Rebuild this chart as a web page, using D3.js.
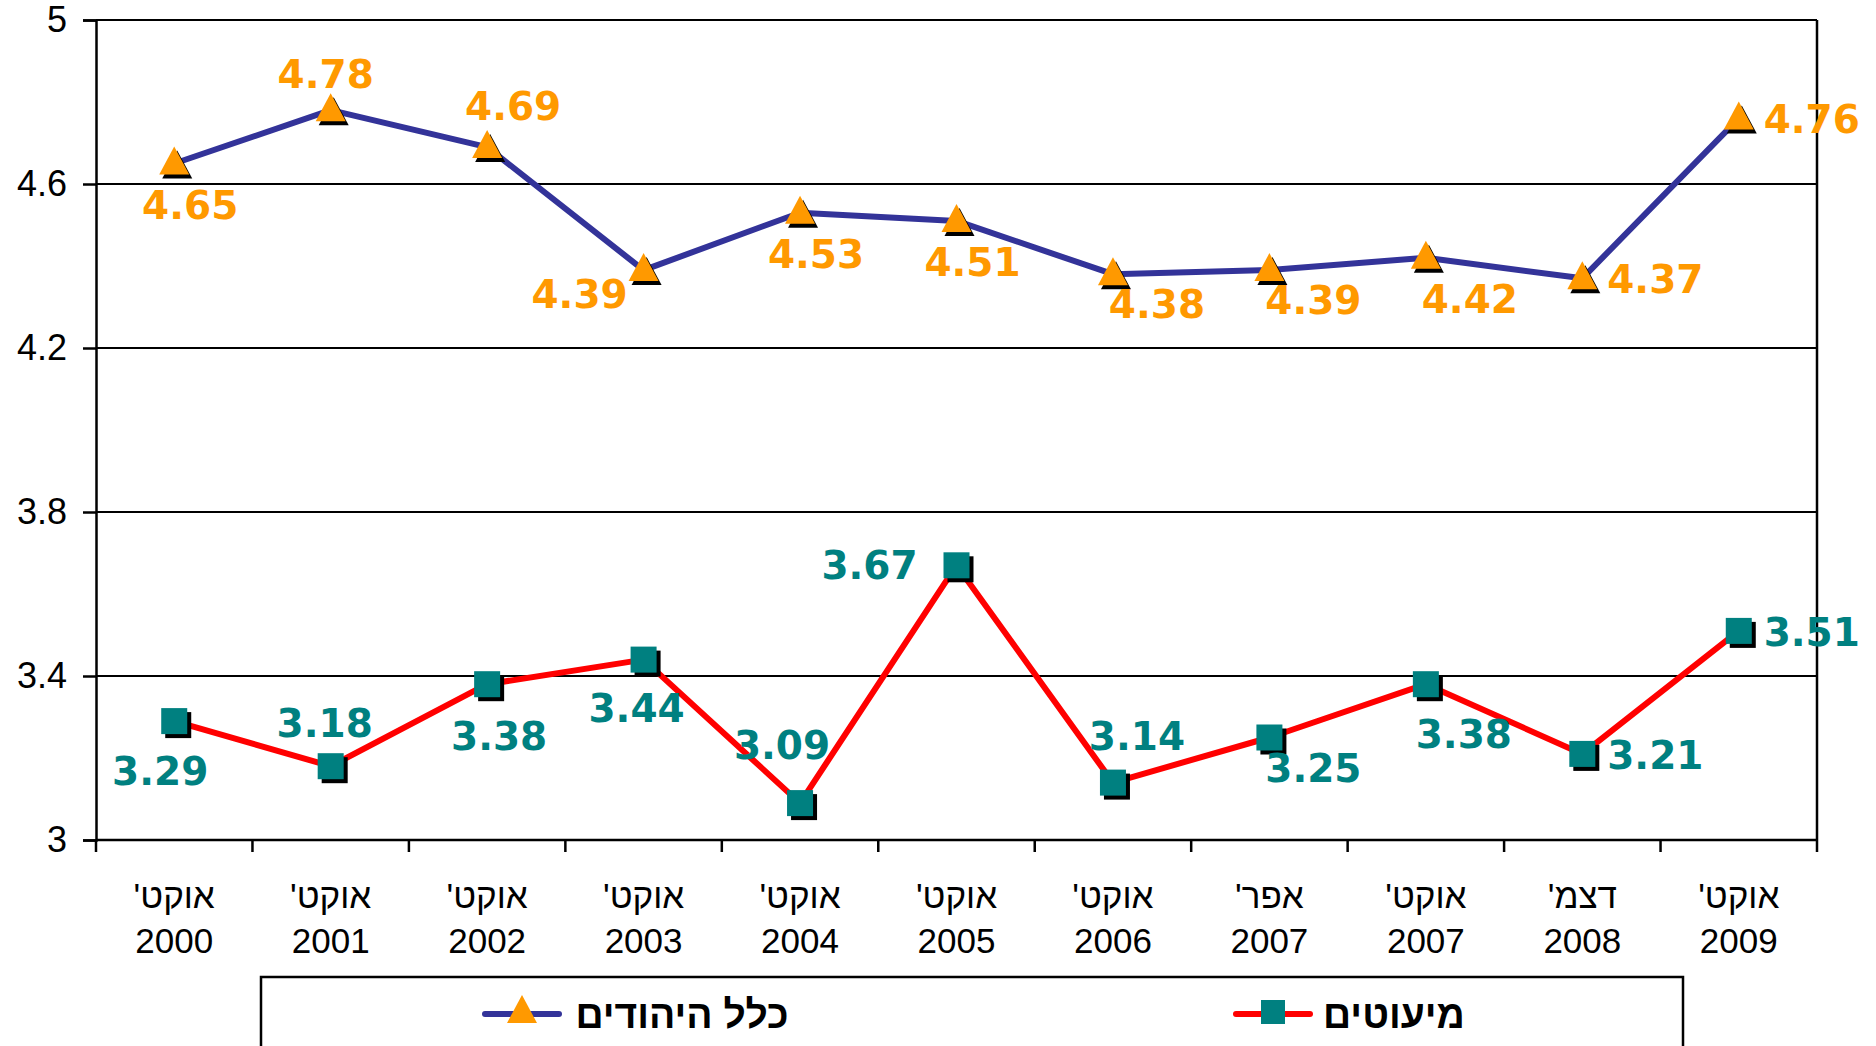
<!DOCTYPE html>
<html>
<head>
<meta charset="utf-8">
<script src="https://cdn.jsdelivr.net/npm/d3@7"></script>
<style>
  body { margin: 0; background: #fff; }
  svg { display: block; }
</style>
</head>
<body>
<script>
const w = 1876,
  h = 1046;

// data
const months = ["אוקט'", "אוקט'", "אוקט'", "אוקט'", "אוקט'", "אוקט'", "אוקט'", "אפר'", "אוקט'", "דצמ'", "אוקט'"];
const years = ['2000', '2001', '2002', '2003', '2004', '2005', '2006', '2007', '2007', '2008', '2009'];
const jews = [4.65, 4.78, 4.69, 4.39, 4.53, 4.51, 4.38, 4.39, 4.42, 4.37, 4.76];
const minorities = [3.29, 3.18, 3.38, 3.44, 3.09, 3.67, 3.14, 3.25, 3.38, 3.21, 3.51];
const yTicks = [3, 3.4, 3.8, 4.2, 4.6, 5];
const seriesNames = ['כלל היהודים', 'מיעוטים'];

// where each value label sits relative to its marker
const jewsLabelPos = ['b', 't', 'tr', 'bl', 'b', 'b', 'br', 'br', 'brl', 'r', 'r'];
const minLabelPos = ['bw', 'tm', 'be', 'bc', 'tl', 'l', 'tn', 'br', 'bd', 'r', 'r'];
const labelOffset = {
  b: [16, 41], t: [-5, -36], tr: [26, -41], bl: [-64, 24], br: [44, 30], brl: [44, 41],
  bw: [-14, 50], be: [12, 52], bc: [-7, 48], bd: [38, 50],
  tm: [-6, -43], tn: [24, -47],
  r: [73, 1], l: [-87, 0], tl: [-18, -58]
};

const margin = { left: 96, right: 1817, top: 20, bottom: 840 };

const xScale = d3.scaleBand()
  .domain(d3.range(years.length))
  .range([margin.left, margin.right]);

const yScale = d3.scaleLinear()
  .domain([3, 5])
  .range([margin.bottom, margin.top]);

const cx = i => xScale(i) + xScale.bandwidth() / 2;

const svg = d3.select('body')
  .append('svg')
  .attr('width', w)
  .attr('height', h);

// gridlines
svg.append('g')
  .selectAll('line')
  .data(yTicks.slice(1))
  .enter()
  .append('line')
  .attr('x1', margin.left)
  .attr('x2', margin.right)
  .attr('y1', d => yScale(d))
  .attr('y2', d => yScale(d))
  .attr('stroke', '#000')
  .attr('stroke-width', 2);

// right border
svg.append('line')
  .attr('x1', margin.right).attr('x2', margin.right)
  .attr('y1', margin.top).attr('y2', margin.bottom)
  .attr('stroke', '#000').attr('stroke-width', 2.5);

// y axis
const yAxis = d3.axisLeft(yScale)
  .tickValues(yTicks)
  .tickFormat(d3.format('~g'))
  .tickSize(13)
  .tickPadding(16);

const gy = svg.append('g')
  .attr('transform', `translate(${margin.left},0)`)
  .call(yAxis);
gy.select('.domain').attr('stroke', '#000').attr('stroke-width', 2.5);
gy.selectAll('.tick line').attr('stroke', '#000').attr('stroke-width', 2.5);
gy.selectAll('.tick text')
  .attr('font-family', 'Arial, "Liberation Sans", sans-serif')
  .attr('font-size', 36)
  .attr('fill', '#000');

// x axis, ticks at band edges
const edges = d3.range(years.length + 1).map(i => i < years.length ? xScale(i) : margin.right);
const gx = svg.append('g');
gx.append('line')
  .attr('x1', margin.left).attr('x2', margin.right)
  .attr('y1', margin.bottom).attr('y2', margin.bottom)
  .attr('stroke', '#000').attr('stroke-width', 2.5);
gx.selectAll('line.tick')
  .data(edges)
  .enter()
  .append('line')
  .attr('class', 'tick')
  .attr('x1', d => d).attr('x2', d => d)
  .attr('y1', margin.bottom).attr('y2', margin.bottom + 12)
  .attr('stroke', '#000').attr('stroke-width', 2.5);

const xl = gx.selectAll('g.lbl')
  .data(years)
  .enter()
  .append('g')
  .attr('class', 'lbl')
  .attr('transform', (d, i) => `translate(${cx(i)},0)`);
xl.append('text')
  .attr('y', 908)
  .attr('direction', 'rtl')
  .attr('text-anchor', 'middle')
  .attr('font-family', 'Arial, "Liberation Sans", sans-serif')
  .attr('font-size', 35)
  .text((d, i) => months[i]);
xl.append('text')
  .attr('y', 953)
  .attr('text-anchor', 'middle')
  .attr('font-family', 'Arial, "Liberation Sans", sans-serif')
  .attr('font-size', 35)
  .text(d => d);

// marker shapes
const triPath = (x, y) => `M${x},${y - 17}L${x + 15},${y + 11}L${x - 15},${y + 11}Z`;
const sq = 26;

const line = d3.line()
  .x((d, i) => cx(i))
  .y(d => yScale(d));

const series = [
  { values: jews, stroke: '#333399', fill: '#FF9900', label: '#FF9900', shape: 'tri', pos: jewsLabelPos },
  { values: minorities, stroke: '#FF0000', fill: '#008080', label: '#008080', shape: 'sq', pos: minLabelPos }
];

series.forEach(s => {
  svg.append('path')
    .datum(s.values)
    .attr('d', line)
    .attr('fill', 'none')
    .attr('stroke', s.stroke)
    .attr('stroke-width', 6)
    .attr('stroke-linejoin', 'round');

  const m = svg.append('g');
  s.values.forEach((v, i) => {
    const x = cx(i), y = yScale(v);
    if (s.shape === 'tri') {
      m.append('path').attr('d', triPath(x + 3, y + 4)).attr('fill', '#000');
      m.append('path').attr('d', triPath(x, y)).attr('fill', s.fill);
    } else {
      m.append('rect').attr('x', x - sq / 2 + 4).attr('y', y - sq / 2 + 4)
        .attr('width', sq).attr('height', sq).attr('fill', '#000');
      m.append('rect').attr('x', x - sq / 2).attr('y', y - sq / 2)
        .attr('width', sq).attr('height', sq).attr('fill', s.fill);
    }
  });

  svg.append('g')
    .selectAll('text')
    .data(s.values)
    .enter()
    .append('text')
    .attr('x', (d, i) => cx(i) + labelOffset[s.pos[i]][0])
    .attr('y', (d, i) => yScale(d) + labelOffset[s.pos[i]][1])
    .attr('dy', '0.36em')
    .attr('text-anchor', 'middle')
    .attr('font-family', 'Verdana, "DejaVu Sans", sans-serif')
    .attr('font-weight', 'bold')
    .attr('font-size', 39)
    .attr('fill', s.label)
    .text(d => d3.format('.2f')(d));
});

// legend
const legend = svg.append('g');
legend.append('rect')
  .attr('x', 261).attr('y', 977)
  .attr('width', 1422).attr('height', 120)
  .attr('fill', '#fff')
  .attr('stroke', '#000')
  .attr('stroke-width', 2.5);

const legItems = [
  { name: seriesNames[0], s: series[0], x: 485, tx: 682 },
  { name: seriesNames[1], s: series[1], x: 1236, tx: 1394 }
];
legItems.forEach(it => {
  const ly = 1014;
  legend.append('line')
    .attr('x1', it.x).attr('x2', it.x + 74)
    .attr('y1', ly).attr('y2', ly)
    .attr('stroke', it.s.stroke).attr('stroke-width', 6)
    .attr('stroke-linecap', 'round');
  if (it.s.shape === 'tri') {
    legend.append('path').attr('d', triPath(it.x + 37, ly - 2)).attr('fill', it.s.fill);
  } else {
    legend.append('rect').attr('x', it.x + 37 - 12).attr('y', ly - 14)
      .attr('width', 24).attr('height', 24).attr('fill', it.s.fill);
  }
  legend.append('text')
    .attr('x', it.tx).attr('y', ly)
    .attr('dy', '0.36em')
    .attr('direction', 'rtl')
    .attr('text-anchor', 'middle')
    .attr('font-family', 'Arial, "Liberation Sans", sans-serif')
    .attr('font-weight', 'bold')
    .attr('font-size', 39)
    .text(it.name);
});
</script>
</body>
</html>
